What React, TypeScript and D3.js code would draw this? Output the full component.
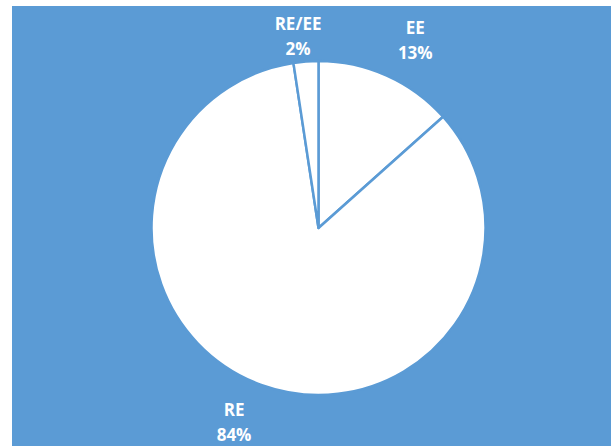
import { useEffect, useRef } from "react"
import * as d3 from "d3"

const categories = ["EE", "RE", "RE/EE"]
const shares = [13.4, 84.2, 2.4]
const pctLabels = ["13%", "84%", "2%"]

// small nudges so labels sit where Excel put them
const labelNudge: Record<string, [number, number]> = {
  EE: [13, -3],
  RE: [-15, -1],
  "RE/EE": [-5, 10],
}

export default function App() {
  const svgRef = useRef<SVGSVGElement>(null)

  useEffect(() => {
    if (!svgRef.current) return
    document.body.style.margin = "0"

    const width = 611
    const height = 446
    const cx = 318.5
    const cy = 228
    const radius = 167
    const blue = "#5b9bd5"

    const svg = d3.select(svgRef.current)
    svg.selectAll("*").remove()
    svg.attr("width", width).attr("height", height)

    svg.append("rect").attr("width", width).attr("height", height).attr("fill", "#ffffff")
    svg
      .append("rect")
      .attr("x", 12)
      .attr("y", 6)
      .attr("width", width - 12)
      .attr("height", height - 6)
      .attr("fill", blue)

    const data = categories.map((c, i) => ({ name: c, value: shares[i], label: pctLabels[i] }))

    const pie = d3
      .pie<(typeof data)[number]>()
      .value((d) => d.value)
      .sort(null)

    const arc = d3.arc<d3.PieArcDatum<(typeof data)[number]>>().innerRadius(0).outerRadius(radius)
    const labelArc = d3
      .arc<d3.PieArcDatum<(typeof data)[number]>>()
      .innerRadius(205)
      .outerRadius(205)

    const g = svg.append("g").attr("transform", `translate(${cx},${cy})`)

    const arcs = pie(data)

    g.selectAll("path")
      .data(arcs)
      .enter()
      .append("path")
      .attr("d", arc)
      .attr("fill", "#ffffff")
      .attr("stroke", blue)
      .attr("stroke-width", 2.5)
      .attr("stroke-linejoin", "round")

    const labels = g
      .selectAll("g.lbl")
      .data(arcs)
      .enter()
      .append("g")
      .attr("class", "lbl")
      .attr("transform", (d) => {
        const [x, y] = labelArc.centroid(d)
        const [nx, ny] = labelNudge[d.data.name] || [0, 0]
        return `translate(${x + nx},${y + ny})`
      })
      .attr("text-anchor", "middle")
      .style("font-family", "'Open Sans', 'Liberation Sans', sans-serif")
      .style("font-weight", "bold")
      .style("font-size", "17px")
      .attr("fill", "#ffffff")

    labels
      .append("text")
      .attr("y", -4)
      .text((d) => d.data.name)
    labels
      .append("text")
      .attr("y", 21)
      .text((d) => d.data.label)
  }, [])

  return <svg ref={svgRef} style={{ display: "block" }}></svg>
}
